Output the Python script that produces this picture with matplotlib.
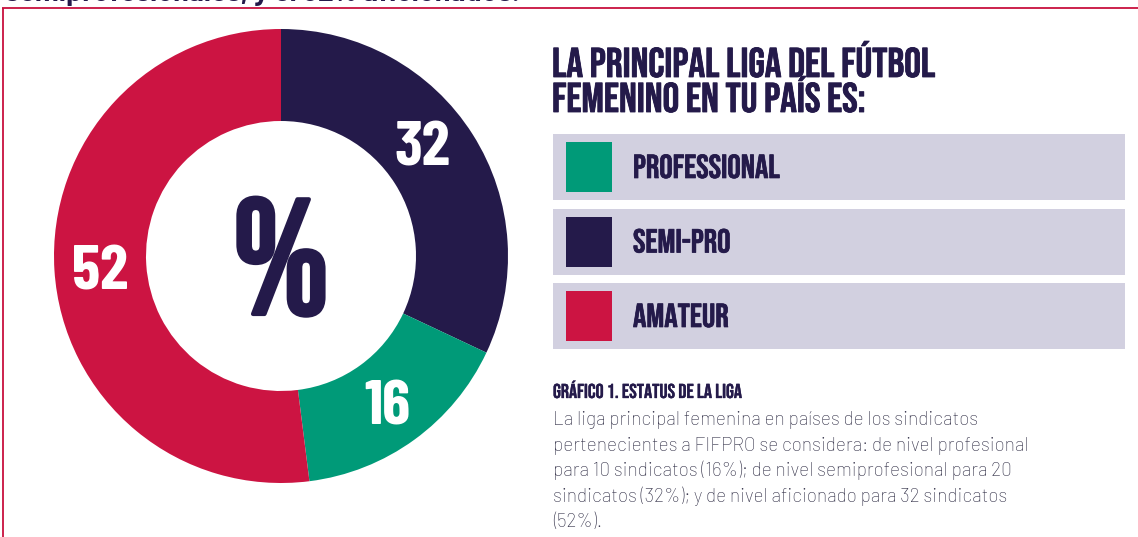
import matplotlib.pyplot as plt
import matplotlib.patheffects as pe
from matplotlib.patches import Rectangle
import numpy as np

# League status of FIFPRO member unions (percent)
categories = ["SEMI-PRO", "PROFESSIONAL", "AMATEUR"]
values = [32, 16, 52]
colors = ["#241a4a", "#009a78", "#cc1442"]
legend_order = ["PROFESSIONAL", "SEMI-PRO", "AMATEUR"]

title_lines = ["LA PRINCIPAL LIGA DEL FÚTBOL", "FEMENINO EN TU PAÍS ES:"]
caption_title = "GRÁFICO 1. ESTATUS DE LA LIGA"
caption_lines = [
    "La liga principal femenina en países de los sindicatos",
    "pertenecientes a FIFPRO se considera: de nivel profesional",
    "para 10 sindicatos (16%); de nivel semiprofesional para 20",
    "sindicatos (32%); y de nivel aficionado para 32 sindicatos",
    "(52%).",
]
top_text = "semiprofesionales, y el 52% aficionados."

navy = "#241a4a"
crimson = "#c8103e"
narrow = ["Bebas Neue", "Barlow Condensed", "DejaVu Sans"]
heavy = ["Barlow Condensed", "DejaVu Sans"]
body = ["Barlow", "Roboto", "DejaVu Sans"]


def thick(lw):
    # thicken the single-weight condensed face a little
    return [pe.withStroke(linewidth=lw, foreground=navy)]


W, H = 1138, 537
fig = plt.figure(figsize=(W / 100, H / 100), dpi=100)

# layer in pixel coordinates for the page layout
lay = fig.add_axes([0, 0, 1, 1])
lay.set_xlim(0, W)
lay.set_ylim(H, 0)
lay.axis("off")

# frame lines and cut-off text from the page above
lay.plot([2, W], [8, 8], color=crimson, lw=1.3, solid_capstyle="butt")
lay.plot([3, 3], [8, H], color=crimson, lw=1.3, solid_capstyle="butt")
lay.text(5, 1.5, top_text, fontsize=20.5, fontweight="bold", color=navy,
         family=body, va="baseline")

# donut
cx, cy, R, r = 281, 256, 227, 135
ax = fig.add_axes([(cx - R) / W, (H - cy - R) / H, 2 * R / W, 2 * R / H])
wedges, _ = ax.pie(values, colors=colors, radius=1, startangle=90,
                   counterclock=False,
                   wedgeprops=dict(width=1 - r / R, linewidth=0))
ax.set_xlim(-1, 1)
ax.set_ylim(-1, 1)
ax.axis("off")

shift = [6, 0, 0]
rm = (1 + r / R) / 2
for w, v, s in zip(wedges, values, shift):
    ang = np.deg2rad((w.theta1 + w.theta2) / 2 + s)
    ax.text(rm * np.cos(ang), rm * np.sin(ang), str(v), color="white",
            fontsize=46, fontweight="bold", family=heavy,
            ha="center", va="center_baseline")
ax.text(0, 0, "%", color=navy, fontsize=118, fontweight="bold",
        family=narrow, ha="center", va="center_baseline",
        path_effects=thick(3))

# heading
for i, line in enumerate(title_lines):
    lay.text(552, 77 + 35 * i, line, color=navy, fontsize=30,
             fontweight="bold", family=narrow, va="baseline",
             path_effects=thick(0.6))

# legend boxes
for i, lab in enumerate(legend_order):
    y0 = 134 + 74.5 * i
    lay.add_patch(Rectangle((553, y0), 572, 66, color="#d2d0e0", lw=0))
    col = colors[categories.index(lab)]
    lay.add_patch(Rectangle((566, y0 + 8), 46, 50, color=col, lw=0))
    lay.text(633, y0 + 44, lab, color=navy, fontsize=24, fontweight="bold",
             family=narrow, va="baseline", path_effects=thick(0.5))

# caption
lay.text(553, 398, caption_title, color=navy, fontsize=14.5, fontweight="bold",
         family=narrow, va="baseline", path_effects=thick(0.25))
for i, line in enumerate(caption_lines):
    lay.text(553, 425 + 25.6 * i, line, color="#2e2c44", fontsize=13.7,
             fontweight="light", family=body, va="baseline")

fig.savefig("out.png", dpi=100)
